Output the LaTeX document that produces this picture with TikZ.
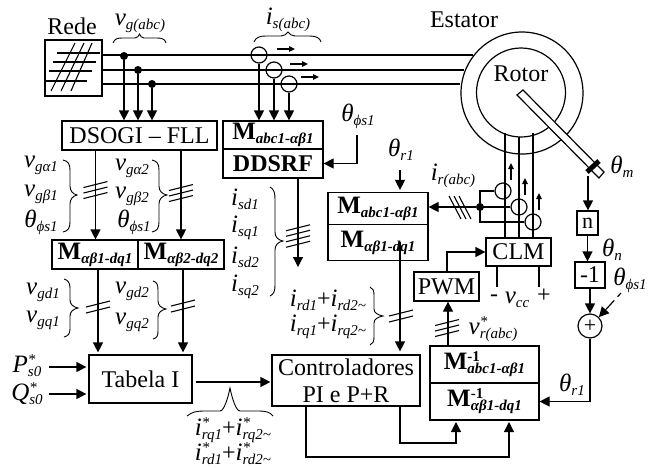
\documentclass[tikz,border=0pt]{standalone}
\usepackage{fontspec}
\setmainfont{Liberation Serif}
\usetikzlibrary{arrows.meta,calc}
\newcommand\fs[1]{\fontsize{#1}{#1}\selectfont}
\newcommand\vv[2]{{\fs{25}\itshape #1}{\fs{15}\itshape\raisebox{-4pt}{#2}}}
\newcommand\vst[2]{{\fs{25}\itshape #1}\rlap{\fs{15}\itshape\raisebox{8pt}{*}}{\fs{15}\itshape\raisebox{-4pt}{#2}}}
\newcommand\MM[1]{{\fs{25}\bfseries M}{\fs{15}\bfseries\itshape\raisebox{-4pt}{#1}}}
\newcommand\MI[1]{{\fs{25}\bfseries M}\rlap{\fs{15}\bfseries\raisebox{8pt}{-1}}{\fs{15}\bfseries\itshape\raisebox{-4pt}{#1}}}
\newcommand\slashes[3]{\begin{scope}[shift={(#1)}]\foreach \k in {1,...,#2}{\draw[thin line] ($(-12,3)+(0,{(\k-(#2+1)/2)*#3})$) -- ($(12,-3)+(0,{(\k-(#2+1)/2)*#3})$);}\end{scope}}
\tikzset{
  thin line/.style={line width=1.1pt},
  wire/.style={line width=1.2pt},
  bus/.style={line width=1.8pt},
  arr/.style={line width=1.2pt,-{Triangle[length=10pt,width=10pt]}},
  smallarr/.style={line width=1.1pt,-{Triangle[length=6pt,width=5.5pt]}},
  box/.style={draw,line width=1.2pt,inner sep=0pt,align=center,font=\fs{24}},
  lab/.style={inner sep=0pt,font=\fs{24}},
  dotj/.style={circle,fill=black,inner sep=0pt,minimum size=8pt},
  ring/.style={circle,draw,line width=1.2pt,inner sep=0pt,minimum size=16pt},
  brc/.style={line width=0.9pt}
}
\begin{document}
\begin{tikzpicture}[x=1pt,y=-1pt]
\useasboundingbox (0,0) rectangle (649,467);
% machine
\node[circle,draw,line width=1.2pt,minimum size=122pt,inner sep=0pt] (stator) at (522,93) {};
\node[circle,draw,line width=1.2pt,minimum size=89pt,inner sep=0pt] (rotor) at (521,92.5) {};
\node[lab] (estator) at (464,20) {Estator};
\node[lab] (rotorl) at (521,74) {Rotor};
% grid
\node[box,minimum width=57pt,minimum height=56pt] (rede) at (73.5,68) {};
\node[lab] (redel) at (72,26) {Rede};
\foreach \a/\b/\c in {57/100/53,53/96/62,49/92/71,44/87/81}{\draw[thin line] (\a,\c) -- (\b,\c);}
\foreach \a/\b in {51/75,61/84,71/92}{\draw[thin line] (\a,91) -- (\b,43);}
% buses
\coordinate (r1) at (102,55);\coordinate (r2) at (102,70);\coordinate (r3) at (102,84);
\coordinate (s1) at (473,55);\coordinate (s2) at (464,70);\coordinate (s3) at (460,84);
\draw[bus] (r1) -- (s1); \draw[bus] (r2) -- (s2); \draw[bus] (r3) -- (s3);
% top boxes
\node[box,minimum width=155pt,minimum height=29pt] (dsogi) at (139.5,135.5) {DSOGI – FLL};
\node[box,minimum width=100pt,minimum height=28pt] (mabc) at (273,135) {\MM{abc1-αβ1}};
\node[box,minimum width=100pt,minimum height=29pt,font=\fs{24}\bfseries] (ddsrf) at (273,163.5) {DDSRF};
% voltage taps
\foreach \n/\x/\y in {j1/124/56,j2/138/70,j3/152/84}{\node[dotj] (\n) at (\x,\y) {};
  \draw[arr] (\n) -- (\n |- dsogi.north);}
% current sensors
\foreach \n/\x/\y in {c1/259/55,c2/274/70,c3/289/84}{\node[ring] (\n) at (\x,\y) {};
  \draw[arr] (\n) -- (\n |- mabc.north);}
\foreach \a/\b/\c in {277/295/49,290/308/64,301/319/77}{\draw[smallarr] (\a,\c) -- (\b,\c);}
\node[lab] (vgl) at (140,23) {\vv{v}{g(abc)}};
\node[lab] (isl) at (288,20) {\vv{i}{s(abc)}};
\draw[brc] (113,43) .. controls (115,38) and (118,38) .. (124,38) -- (135,38) .. controls (137,38) and (139,36) .. (139.5,34) .. controls (140,36) and (142,38) .. (144,38) -- (157,38) .. controls (162,38) and (165,39) .. (166,43);
\draw[brc] (254,42) .. controls (256,37) and (260,36) .. (266,36) -- (281,36) .. controls (284,36) and (287,34) .. (288,32) .. controls (289,34) and (292,36) .. (295,36) -- (310,36) .. controls (316,36) and (320,38) .. (321,42);
% theta to ddsrf
\node[lab] (thp) at (358,116) {\vv{θ}{ϕs1}};
\coordinate (thc) at (357,135);
\draw[arr] (thc) |- (ddsrf.east);
% dsogi outputs
\node[box,minimum width=86pt,minimum height=29pt] (ma1) at (95,254.5) {\MM{αβ1-dq1}};
\node[box,minimum width=86pt,minimum height=29pt] (ma2) at (181,254.5) {\MM{αβ2-dq2}};
\coordinate (d1) at (95.5,150); \coordinate (d2) at (181,150);
\draw[arr] (d1) -- (d1 |- ma1.north);
\draw[arr] (d2) -- (d2 |- ma2.north);
\slashes{95.5,190}{3}{5.5}
\slashes{181,193}{3}{5.5}
\node[lab] at (41,165) {\vv{v}{gα1}};
\node[lab] at (41,194) {\vv{v}{gβ1}};
\node[lab] at (41,222) {\vv{θ}{ϕs1}};
\node[lab] at (132,168) {\vv{v}{gα2}};
\node[lab] at (132,196) {\vv{v}{gβ2}};
\node[lab] at (134,222) {\vv{θ}{ϕs1}};
\draw[brc] (63,160) .. controls (68,161) and (70,164) .. (70,170) -- (70,186) .. controls (70,191) and (73,194) .. (77,195) .. controls (73,196) and (70,199) .. (70,204) -- (70,222) .. controls (70,228) and (68,231) .. (63,232);
\draw[brc] (152,160) .. controls (157,161) and (159,164) .. (159,170) -- (159,186) .. controls (159,191) and (162,194) .. (167,195) .. controls (162,196) and (159,199) .. (159,204) -- (159,222) .. controls (159,228) and (157,231) .. (152,232);
% M to Tabela
\node[box,minimum width=103pt,minimum height=48pt] (tab) at (140.5,379) {Tabela I};
\coordinate (m1) at (98,269); \coordinate (m2) at (183,269);
\draw[arr] (m1) -- ($(m1 |- tab.north)+(0,-2)$);
\draw[arr] (m2) -- ($(m2 |- tab.north)+(0,-2)$);
\slashes{98,307}{2}{6}
\slashes{183,306}{2}{6}
\node[lab] at (43,292) {\vv{v}{gd1}};
\node[lab] at (43,320) {\vv{v}{gq1}};
\node[lab] at (132,291) {\vv{v}{gd2}};
\node[lab] at (132,322) {\vv{v}{gq2}};
\draw[brc] (64,279) .. controls (68,280) and (70,283) .. (70,288) -- (70,300) .. controls (70,304) and (73,307) .. (78,308) .. controls (73,309) and (70,312) .. (70,316) -- (70,329) .. controls (70,334) and (68,336) .. (64,337);
\draw[brc] (153,281) .. controls (157,282) and (158,285) .. (158,290) -- (158,301) .. controls (158,305) and (161,308) .. (166,309) .. controls (161,310) and (158,313) .. (158,317) -- (158,331) .. controls (158,336) and (157,338) .. (153,339);
% P Q
\node[lab] (pl) at (27,366) {\vst{P}{s0}};
\node[lab] (ql) at (27,394) {\vst{Q}{s0}};
\coordinate (p0) at (49,367); \coordinate (q0) at (49,394);
\draw[arr] (p0) -- ($(p0 -| tab.west)+(-2,0)$);
\draw[arr] (q0) -- ($(q0 -| tab.west)+(-2,0)$);
% controllers
\node[box,minimum width=148pt,minimum height=51pt,align=center] (ctrl) at (346,380.5) {Controladores\\[3pt]PI e P+R};
\coordinate (t0) at (196,382);
\draw[arr] (t0) -- ($(t0 -| ctrl.west)+(-1,0)$);
\draw[brc] (187,416) .. controls (192,412) and (196,411) .. (205,411) -- (220,411) .. controls (224,411) and (228,398) .. (230,388) .. controls (232,398) and (236,411) .. (240,411) -- (258,411) .. controls (266,411) and (270,412) .. (273,416);
\newcommand\starred[2]{{\fs{25}\itshape i}\rlap{\fs{15}\itshape\raisebox{8pt}{*}}{\fs{15}\itshape\raisebox{-4pt}{#1}}{\fs{24}+}{\fs{25}\itshape i}\rlap{\fs{15}\itshape\raisebox{8pt}{*}}{\fs{15}\itshape\raisebox{-4pt}{#2}}}
\node[lab] at (233,430) {\starred{rq1}{rq2\textasciitilde}};
\node[lab] at (233,454) {\starred{rd1}{rd2\textasciitilde}};
% DDSRF output
\coordinate (dd) at (298,178);
\coordinate (ddend) at (298,267);
\draw[arr] (dd) -- (ddend);
\slashes{298,236}{4}{5.5}
\node[lab] at (245,199) {\vv{i}{sd1}};
\node[lab] at (245,228) {\vv{i}{sq1}};
\node[lab] at (245,257) {\vv{i}{sd2}};
\node[lab] at (245,287) {\vv{i}{sq2}};
\draw[brc] (270,187) .. controls (274,189) and (275,193) .. (275,199) -- (275,232) .. controls (275,237) and (278,240) .. (283,241) .. controls (278,242) and (275,245) .. (275,250) -- (275,285) .. controls (275,291) and (274,294) .. (270,296);
% rotor side transforms
\node[box,minimum width=100pt,minimum height=32pt] (mr1) at (378,208.5) {\MM{abc1-αβ1}};
\node[box,minimum width=100pt,minimum height=36pt] (mr2) at (378,242.5) {\MM{αβ1-dq1}};
\node[lab] (thr) at (401,150) {\vv{θ}{r1}};
\coordinate (thra) at (400,170);
\draw[arr] (thra) -- ($(thra |- mr1.north)+(0,-2)$);
\coordinate (ms) at (400,242);
\draw[arr] (ms) -- ($(ms |- ctrl.north)+(0,-3)$);
\slashes{401,316}{2}{6}
\newcommand\plusd[2]{{\fs{25}\itshape i}{\fs{15}\itshape\raisebox{-4pt}{#1}}{\fs{24}+}{\fs{25}\itshape i}{\fs{15}\itshape\raisebox{-4pt}{#2}}}
\node[lab] at (328,300) {\plusd{rd1}{rd2\textasciitilde}};
\node[lab] at (328,327) {\plusd{rq1}{rq2\textasciitilde}};
\draw[brc] (370,287) .. controls (373,288) and (374,291) .. (374,295) -- (374,309) .. controls (374,313) and (378,315) .. (383,316) .. controls (378,317) and (374,319) .. (374,323) -- (374,337) .. controls (374,341) and (373,344) .. (370,345);
% rotor wires and CLM
\node[box,minimum width=65pt,minimum height=28pt] (clm) at (518.5,252) {CLM};
\coordinate (w1) at (505,133); \coordinate (w2) at (519,137); \coordinate (w3) at (533,133);
\draw[wire] (w1) -- (w1 |- clm.north); \draw[wire] (w2) -- (w2 |- clm.north); \draw[wire] (w3) -- (w3 |- clm.north);
\node[ring] (k1) at (503,191) {};
\node[ring] (k2) at (519,207) {};
\node[ring] (k3) at (533,222) {};
\foreach \a/\b/\c in {511/180/163,525/195/178,539/210/193}{\draw[smallarr] (\a,\b) -- (\a,\c);}
\node[dotj] (jr) at (480,207) {};
\draw[wire] (k1.west) -| (jr.center);
\draw[wire] (k3.west) -| (jr.center);
\draw[wire] (k2.west) -- (jr.center);
\draw[arr] (jr) -- (mr1.east |- jr);
\foreach \o in {-5,0,5}{\draw[thin line] (\o+454,196) -- (\o+466,219);}
\node[lab] at (453,176) {\vv{i}{r(abc)}};
% shaft
\draw[line width=1.2pt,fill=white] (517,95) -- (523,90) -- (604,172) -- (599,178) -- cycle;
\draw[line width=5pt] (587,172) -- (599,161);
\node[lab] (thm) at (622,167) {\vv{θ}{m}};
\coordinate (sh) at (588,176);
% speed chain
\node[box,minimum width=21pt,minimum height=24pt,font=\fs{22}] (nb) at (587.5,223) {n};
\node[box,minimum width=30pt,minimum height=26pt,font=\fs{24}] (mo) at (590,275) {-1};
\node[circle,draw,line width=1.2pt,minimum size=24pt,inner sep=0pt,font=\fs{22}] (sum) at (590,326) {+};
\draw[arr] (sh) -- (sh |- nb.north);
\draw[arr] (nb.south) -- (nb.south |- mo.north);
\draw[arr] (mo.south) -- (sum.north);
\node[lab] at (612,250) {\vv{θ}{n}};
\node[lab] at (630,280) {\vv{θ}{ϕs1}};
\coordinate (dsh) at (621,293);
\draw[arr,dash pattern=on 5pt off 5pt on 18pt off 0pt] (dsh) -- (sum.north east);
% PWM
\node[box,minimum width=65pt,minimum height=29pt] (pwm) at (446.5,286.5) {PWM};
\node[box,minimum width=109pt,minimum height=37pt] (mi1) at (484.5,364.5) {\MI{abc1-αβ1}};
\node[box,minimum width=109pt,minimum height=37pt] (mi2) at (484.5,401.5) {\MI{αβ1-dq1}};
\coordinate (va) at (448,346);
\draw[arr] (va) -- (va |- pwm.south);
\slashes{447,328}{3}{5.5}
\node[lab] at (493,329) {\vst{v}{r(abc)}};
\coordinate (pw) at (447,272);
\draw[arr] (pw) |- (clm.west);
\coordinate (vc1) at (497,266); \coordinate (vc2) at (539,266);
\draw[wire] (vc1) -- ++(0,21); \draw[wire] (vc2) -- ++(0,21);
\node[lab] at (494,298) {-};
\node[lab] at (517,300) {\vv{v}{cc}};
\node[lab] at (544,296) {+};
\draw[arr] (sum.south) |- (mi2.east);
\node[lab] at (572,385) {\vv{θ}{r1}};
% controller feedback
\coordinate (f1) at (306,406); \coordinate (f2) at (400,406);
\coordinate (f3) at (509,422); \coordinate (f4) at (456,422);
\draw[arr] (f1) |- (400,457) -| (f3);
\draw[arr] (f2) |- (f4 |- 0,443) -- (f4);
\end{tikzpicture}
\end{document}
